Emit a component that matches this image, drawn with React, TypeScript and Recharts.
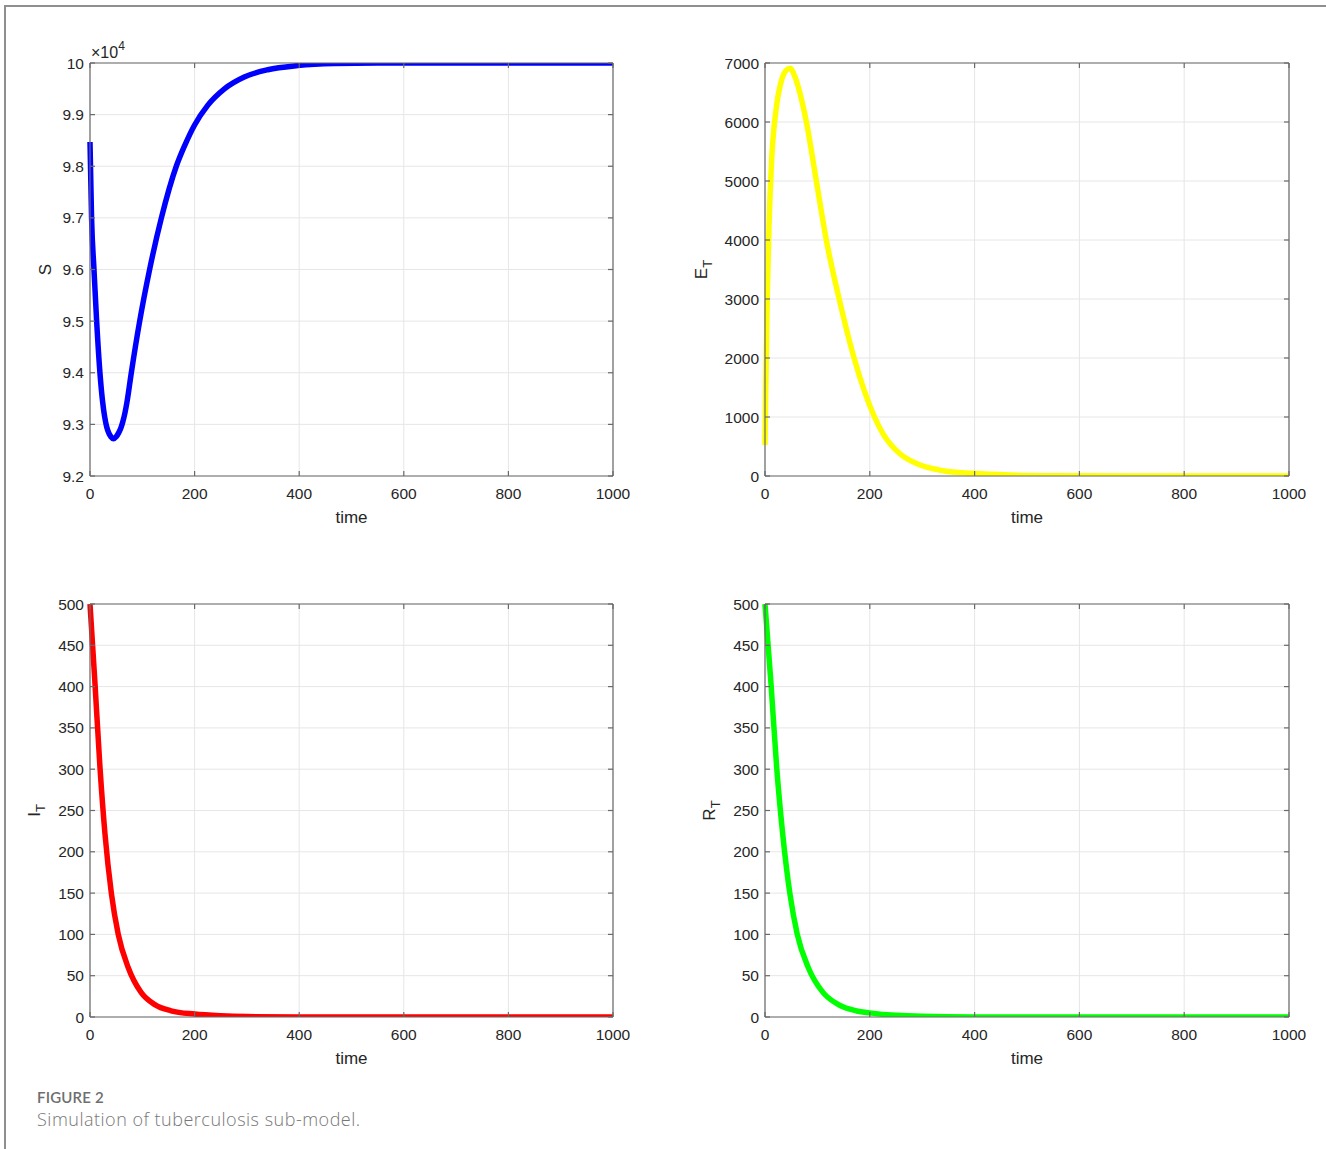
import React from 'react';
import { LineChart, Line, XAxis, YAxis, CartesianGrid, Label } from 'recharts';

// ---------- tick labels ----------
const timeTicks = [0, 200, 400, 600, 800, 1000];
const sTicks = [92000, 93000, 94000, 95000, 96000, 97000, 98000, 99000, 100000];
const eTicks = [0, 1000, 2000, 3000, 4000, 5000, 6000, 7000];
const irTicks = [0, 50, 100, 150, 200, 250, 300, 350, 400, 450, 500];

// ---------- S (susceptible) ----------
const sTime = [0, 3, 7.6, 12.7, 19, 24, 28, 32, 36, 40, 45, 50, 55, 59, 63, 67, 71, 79, 95, 114, 136.5, 165, 181, 200, 225, 257, 295, 340, 397, 467, 550, 700, 1000];
const sValue = [98470, 97000, 96000, 95000, 94000, 93450, 93150, 92950, 92830, 92760, 92720, 92760, 92840, 92930, 93060, 93230, 93450, 94000, 95000, 96000, 97000, 98000, 98400, 98800, 99180, 99500, 99730, 99870, 99950, 99990, 100000, 100000, 100000];

// ---------- E_T ----------
const eTime = [0, 1.3, 4.4, 7.6, 12.7, 21, 31.7, 41, 48, 57, 70, 79, 98, 117, 141.6, 170, 209, 225, 257, 295, 340, 397, 467, 550, 700, 1000];
const eValue = [525, 1400, 3100, 4230, 5360, 6200, 6710, 6880, 6910, 6770, 6370, 6000, 5000, 4000, 3000, 2000, 1000, 720, 380, 190, 90, 45, 17, 6, 1, 0];

// ---------- I_T ----------
const iTime = [0, 9.5, 19, 28.6, 41, 54, 73, 98, 124, 155, 200, 250, 300, 400, 600, 1000];
const iValue = [500, 404, 303, 222, 149, 100, 60, 29.5, 15, 7.5, 3.5, 1.4, 0.5, 0.1, 0, 0];

// ---------- R_T ----------
const rTime = [0, 11.4, 22.2, 33.7, 47.6, 61.6, 82.5, 111, 140, 175, 200, 250, 300, 400, 600, 1000];
const rValue = [500, 404, 303, 222, 149, 100, 60, 29.5, 15, 7.3, 5, 2, 0.8, 0.1, 0, 0];

const toRows = (t: number[], v: number[]) => t.map((x, i) => ({ t: x, v: v[i] }));

const AXIS = '#6a6a6a';
const TEXT = '#262626';
const GRID = '#e6e6e6';
const FONT = '"Liberation Sans", Arial, Helvetica, sans-serif';

type PanelProps = {
  left: number;
  top: number;
  width: number;
  height: number;
  plot: [number, number, number, number];
  rows: { t: number; v: number }[];
  color: string;
  yDomain: [number, number];
  yTicks: number[];
  yFmt?: (v: number) => string;
  yMain: string;
  ySub?: string;
  yGap: number;
  exponent?: boolean;
};

function Panel(p: PanelProps) {
  const [x0, y0, x1, y1] = p.plot;
  const xAxisH = 60;
  const yAxisW = x0 - p.left;
  const margin = {
    top: y0 - p.top - 1,
    left: 0,
    right: p.left + p.width - x1 - 1,
    bottom: p.top + p.height - y1 - xAxisH,
  };

  const yLabel = (props: any) => {
    const vb = props.viewBox || {};
    const cx = vb.x + vb.width - p.yGap;
    const cy = vb.y + vb.height / 2;
    return (
      <g>
        <text
          x={cx}
          y={cy}
          transform={`rotate(-90 ${cx} ${cy})`}
          textAnchor="middle"
          dominantBaseline="central"
          fontSize={17}
          fill={TEXT}
        >
          {p.yMain}
          {p.ySub ? (
            <tspan dy={6} fontSize={13}>
              {p.ySub}
            </tspan>
          ) : null}
        </text>
        {p.exponent ? (
          <text x={vb.x + vb.width + 1} y={vb.y - 5} fontSize={16} fill={TEXT}>
            ×10
            <tspan dy={-8} fontSize={12}>
              4
            </tspan>
          </text>
        ) : null}
      </g>
    );
  };

  const xLabel = (props: any) => {
    const vb = props.viewBox || {};
    return (
      <text
        x={vb.x + vb.width / 2}
        y={vb.y + 41}
        textAnchor="middle"
        dominantBaseline="central"
        fontSize={17}
        fill={TEXT}
      >
        time
      </text>
    );
  };

  const tickStyle = { fontSize: 15.5, fill: TEXT, fontFamily: FONT };
  const blank = () => '';
  const lineStyle = { stroke: AXIS, strokeWidth: 1.2 };

  return (
    <div style={{ position: 'absolute', left: p.left, top: p.top, width: p.width, height: p.height }}>
      <LineChart width={p.width} height={p.height} data={p.rows} margin={margin}>
        <CartesianGrid stroke={GRID} strokeWidth={1} />
        <XAxis
          type="number"
          dataKey="t"
          domain={[0, 1000]}
          ticks={timeTicks}
          interval={0}
          height={xAxisH}
          tickSize={-5}
          tickMargin={17}
          axisLine={lineStyle}
          tickLine={lineStyle}
          tick={tickStyle}
        >
          <Label content={xLabel} />
        </XAxis>
        <XAxis
          xAxisId="top"
          orientation="top"
          type="number"
          dataKey="t"
          domain={[0, 1000]}
          ticks={timeTicks}
          interval={0}
          height={1}
          tickSize={-5}
          tickFormatter={blank}
          axisLine={lineStyle}
          tickLine={lineStyle}
          tick={tickStyle}
        />
        <YAxis
          type="number"
          domain={p.yDomain}
          ticks={p.yTicks}
          interval={0}
          width={yAxisW}
          tickSize={-5}
          tickMargin={11}
          tickFormatter={p.yFmt}
          axisLine={lineStyle}
          tickLine={lineStyle}
          tick={tickStyle}
          allowDataOverflow
        >
          <Label content={yLabel} />
        </YAxis>
        <YAxis
          yAxisId="right"
          orientation="right"
          type="number"
          domain={p.yDomain}
          ticks={p.yTicks}
          interval={0}
          width={1}
          tickSize={-5}
          tickFormatter={blank}
          axisLine={lineStyle}
          tickLine={lineStyle}
          tick={tickStyle}
          allowDataOverflow
        />
        <Line
          type="monotone"
          dataKey="v"
          stroke={p.color}
          strokeWidth={5.5}
          dot={false}
          activeDot={false}
          isAnimationActive={false}
        />
      </LineChart>
    </div>
  );
}

const sFmt = (v: number) => String(Math.round(v / 1000) / 10);

export default function App() {
  return (
    <div
      style={{
        position: 'absolute',
        left: 0,
        top: 0,
        width: 1326,
        height: 1149,
        background: '#ffffff',
        fontFamily: FONT,
        overflow: 'hidden',
      }}
    >
      <div
        style={{
          position: 'absolute',
          left: 4,
          top: 5,
          width: 1330,
          height: 1150,
          borderTop: '2px solid #8f8f8f',
          borderLeft: '2px solid #8f8f8f',
        }}
      />
      <Panel
        left={0}
        top={0}
        width={660}
        height={560}
        plot={[90, 63, 613, 476]}
        rows={toRows(sTime, sValue)}
        color="#0000ff"
        yDomain={[92000, 100000]}
        yTicks={sTicks}
        yFmt={sFmt}
        yMain="S"
        yGap={45}
        exponent
      />
      <Panel
        left={660}
        top={0}
        width={666}
        height={560}
        plot={[765, 63, 1289, 476]}
        rows={toRows(eTime, eValue)}
        color="#ffff00"
        yDomain={[0, 7000]}
        yTicks={eTicks}
        yMain="E"
        ySub="T"
        yGap={64}
      />
      <Panel
        left={0}
        top={560}
        width={660}
        height={530}
        plot={[90, 604, 613, 1017]}
        rows={toRows(iTime, iValue)}
        color="#ff0000"
        yDomain={[0, 500]}
        yTicks={irTicks}
        yMain="I"
        ySub="T"
        yGap={56}
      />
      <Panel
        left={660}
        top={560}
        width={666}
        height={530}
        plot={[765, 604, 1289, 1017]}
        rows={toRows(rTime, rValue)}
        color="#00ff00"
        yDomain={[0, 500]}
        yTicks={irTicks}
        yMain="R"
        ySub="T"
        yGap={56}
      />
      <div
        style={{
          position: 'absolute',
          left: 37,
          top: 1088,
          fontFamily: 'Lato, "Open Sans", sans-serif',
          fontSize: 15,
          fontWeight: 600,
          color: '#6e6e6e',
          lineHeight: '18px',
          letterSpacing: 0.2,
        }}
      >
        FIGURE 2
      </div>
      <div
        style={{
          position: 'absolute',
          left: 37,
          top: 1107,
          fontFamily: '"Open Sans", Lato, sans-serif',
          fontSize: 18,
          fontWeight: 300,
          color: '#777777',
          lineHeight: '24px',
          letterSpacing: 0.5,
        }}
      >
        Simulation of tuberculosis sub-model.
      </div>
    </div>
  );
}
